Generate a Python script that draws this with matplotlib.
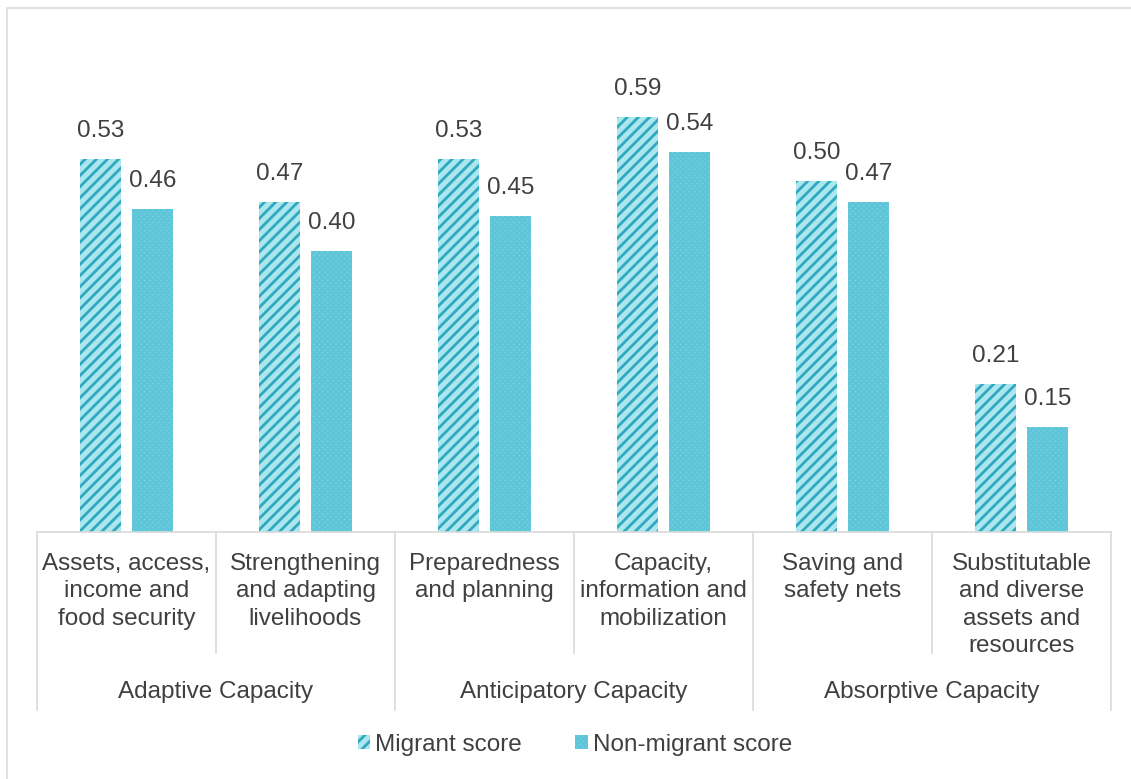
import matplotlib.pyplot as plt
from matplotlib.lines import Line2D
from matplotlib.patches import Patch, Rectangle
import numpy as np

plt.rcParams["font.family"] = ["Liberation Sans", "DejaVu Sans"]
plt.rcParams["hatch.linewidth"] = 2.0

categories = [
    "Assets, access,\nincome and\nfood security",
    "Strengthening\nand adapting\nlivelihoods",
    "Preparedness\nand planning",
    "Capacity,\ninformation and\nmobilization",
    "Saving and\nsafety nets",
    "Substitutable\nand diverse\nassets and\nresources",
]
groups = ["Adaptive Capacity", "Anticipatory Capacity", "Absorptive Capacity"]
migrant = [0.53, 0.47, 0.53, 0.59, 0.50, 0.21]
non_migrant = [0.46, 0.40, 0.45, 0.54, 0.47, 0.15]

W, H = 1131, 779
TEXT = "#404040"
GRID = "#d9d9d9"
STRIPE_BG, STRIPE = "#ace6ef", "#2fa9bf"
DOT_BG, DOT = "#8adae6", "#5ec6d8"
FS = 17.5

fig = plt.figure(figsize=(W / 100, H / 100), dpi=100)
# axes placed in pixel terms: x 37..1111, baseline y=532, top y=40
left, right, base, top = 37, 1111, 532, 40
ax = fig.add_axes([left / W, (H - base) / H, (right - left) / W, (base - top) / H])
ax_h = base - top

x = np.arange(len(categories))
bw, off = 0.23, 0.145
b1 = ax.bar(x - off, migrant, bw, color=STRIPE_BG, edgecolor=STRIPE, hatch="///", linewidth=0)
b2 = ax.bar(x + off, non_migrant, bw, color=DOT_BG, edgecolor=DOT, hatch="xxxxxx", linewidth=0)
for bars, vals in ((b1, migrant), (b2, non_migrant)):
    for b, v in zip(bars, vals):
        ax.annotate(f"{v:.2f}", (b.get_x() + b.get_width() / 2, v), xytext=(0, 17),
                    textcoords="offset pixels", ha="center", va="bottom",
                    fontsize=FS, color=TEXT)

ax.set_xlim(-0.5, len(categories) - 0.5)
ax.set_ylim(0, 0.70)
ax.set_yticks([])
ax.set_xticks([])
for s in ax.spines.values():
    s.set_visible(False)

# category axis: baseline, dividers, labels
tr = ax.get_xaxis_transform()
def yf(py):
    return (base - py) / ax_h

ax.add_line(Line2D([-0.5, len(categories) - 0.5], [0, 0], transform=tr, color=GRID, lw=1.2, clip_on=False))
for k in range(len(categories) + 1):
    bottom = 710 if k % 2 == 0 else 653
    ax.add_line(Line2D([k - 0.5, k - 0.5], [0, yf(bottom)], transform=tr, color=GRID, lw=1.2, clip_on=False))
for xi, lab in zip(x, categories):
    ax.text(xi, yf(553), lab, transform=tr, ha="center", va="top", fontsize=FS,
            color=TEXT, linespacing=1.32)
for g, name in enumerate(groups):
    ax.text(2 * g + 0.5, yf(692), name, transform=tr, ha="center", va="center",
            fontsize=FS, color=TEXT)

handles = [Patch(facecolor=STRIPE_BG, edgecolor=STRIPE, hatch="///", linewidth=0),
           Patch(facecolor=DOT_BG, edgecolor=DOT, hatch="xxxxxx", linewidth=0)]
fig.legend(handles, ["Migrant score", "Non-migrant score"], loc="center",
           bbox_to_anchor=(575 / W, 1 - 745 / H), ncol=2, frameon=False,
           fontsize=FS, labelcolor=TEXT, handlelength=0.5, handleheight=0.5,
           handletextpad=0.2, columnspacing=2.2)

fig.add_artist(Rectangle((7 / W, -0.01), 1.1, 1 - 8 / H + 0.01, transform=fig.transFigure,
                         fill=False, edgecolor="#dcdcdc", lw=1.2))

fig.savefig("out.png", dpi=100)
